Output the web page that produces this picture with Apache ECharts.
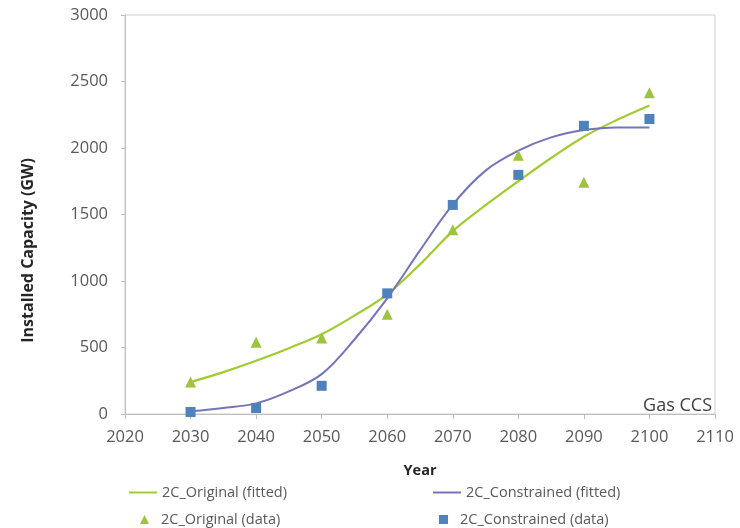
<!DOCTYPE html>
<html>
<head>
<meta charset="utf-8">
<script src="https://cdn.jsdelivr.net/npm/echarts@6/dist/echarts.min.js"></script>
<style>html,body{margin:0;padding:0;background:#fff;}#c{width:740px;height:528px;}</style>
</head>
<body>
<div id="c"></div>
<script>
// Data
var dataYears = [2030, 2040, 2050, 2060, 2070, 2080, 2090, 2100];
var originalData = [240, 540, 572, 750, 1385, 1945, 1742, 2415];
var constrainedData = [15, 45, 212, 907, 1572, 1798, 2167, 2218];

var fitYears = [2030, 2035, 2040, 2045, 2050, 2055, 2060, 2065, 2070, 2075, 2080, 2085, 2090, 2095, 2100];
var originalFitted = [240, 315, 400, 495, 600, 740, 900, 1125, 1375, 1570, 1750, 1925, 2085, 2210, 2320];
var constrainedFitted = [20, 45, 80, 170, 300, 560, 870, 1230, 1575, 1830, 1980, 2080, 2135, 2155, 2155];

var seriesNames = ['2C_Original (fitted)', '2C_Constrained (fitted)', '2C_Original (data)', '2C_Constrained (data)'];
var xTitle = 'Year';
var yTitle = 'Installed Capacity (GW)';
var panelLabel = 'Gas CCS';

function pairs(xs, ys) { return xs.map(function (x, i) { return [x, ys[i]]; }); }

var FONT = 'Open Sans';
var GREEN_LINE = '#A0CC30';
var GREEN_MARK = '#9CC43C';
var BLUE_LINE = '#7474BA';
var BLUE_MARK = '#4F81BD';

function lineLg(name, left, top) {
  return { data: [name], left: left, top: top, itemWidth: 28, itemHeight: 2, itemGap: 2,
           itemStyle: { opacity: 0 },
           textStyle: { color: '#595959', fontFamily: FONT, fontSize: 14.5 },
           selectedMode: false, padding: 0 };
}
function markLg(name, left, top) {
  return { data: [name], left: left, top: top, itemWidth: 9, itemHeight: 9, itemGap: 2,
           textStyle: { color: '#595959', fontFamily: FONT, fontSize: 14.5, padding: [0, 0, 0, 7] },
           selectedMode: false, padding: 0 };
}

var chart = echarts.init(document.getElementById('c'), null, { renderer: 'canvas' });
chart.setOption({
  animation: false,
  backgroundColor: '#ffffff',
  grid: { left: 125, right: 25, top: 15, bottom: 114, show: true, borderColor: '#d0d0d0', borderWidth: 1, backgroundColor: 'transparent' },
  legend: [
    lineLg(seriesNames[0], 128, 485),
    lineLg(seriesNames[1], 432, 485),
    markLg(seriesNames[2], 140, 512),
    markLg(seriesNames[3], 439, 512)
  ],
  xAxis: {
    type: 'value', min: 2020, max: 2110, interval: 10,
    name: xTitle, nameLocation: 'middle', nameGap: 49,
    nameTextStyle: { fontFamily: FONT, fontWeight: 'bold', fontSize: 14.5, color: '#262626' },
    axisLine: { show: true, onZero: false, lineStyle: { color: '#bfbfbf', width: 1 } },
    axisTick: { show: true, length: 5, lineStyle: { color: '#bfbfbf' } },
    axisLabel: { color: '#595959', fontFamily: FONT, fontSize: 16.5, margin: 15,
                 formatter: function (v) { return String(v); } },
    splitLine: { show: false }
  },
  yAxis: {
    type: 'value', min: 0, max: 3000, interval: 500,
    axisLine: { show: true, lineStyle: { color: '#bfbfbf', width: 1 } },
    axisTick: { show: true, length: 4, lineStyle: { color: '#bfbfbf' } },
    axisLabel: { color: '#595959', fontFamily: FONT, fontSize: 16.5, margin: 17,
                 formatter: function (v) { return String(v); } },
    splitLine: { show: false }
  },
  graphic: [
    { type: 'text', left: 20, top: 158, rotation: Math.PI / 2,
      style: { text: yTitle, font: 'bold 16px "Open Sans"', fill: '#262626' } },
    { type: 'text', right: 28, top: 397,
      style: { text: panelLabel, font: '18px "Open Sans"', fill: '#404040' } }
  ],
  series: [
    { name: seriesNames[0], type: 'line', data: pairs(fitYears, originalFitted), smooth: 0.35,
      symbol: 'none', lineStyle: { color: GREEN_LINE, width: 2.2 }, itemStyle: { color: GREEN_LINE }, z: 2 },
    { name: seriesNames[1], type: 'line', data: pairs(fitYears, constrainedFitted), smooth: 0.35,
      symbol: 'none', lineStyle: { color: BLUE_LINE, width: 2 }, itemStyle: { color: BLUE_LINE }, z: 2 },
    { name: seriesNames[2], type: 'scatter', data: pairs(dataYears, originalData),
      symbol: 'triangle', symbolSize: 11, itemStyle: { color: GREEN_MARK, opacity: 1 }, z: 3 },
    { name: seriesNames[3], type: 'scatter', data: pairs(dataYears, constrainedData),
      symbol: 'rect', symbolSize: 10, itemStyle: { color: BLUE_MARK, opacity: 1 }, z: 3 }
  ]
});
</script>
</body>
</html>
